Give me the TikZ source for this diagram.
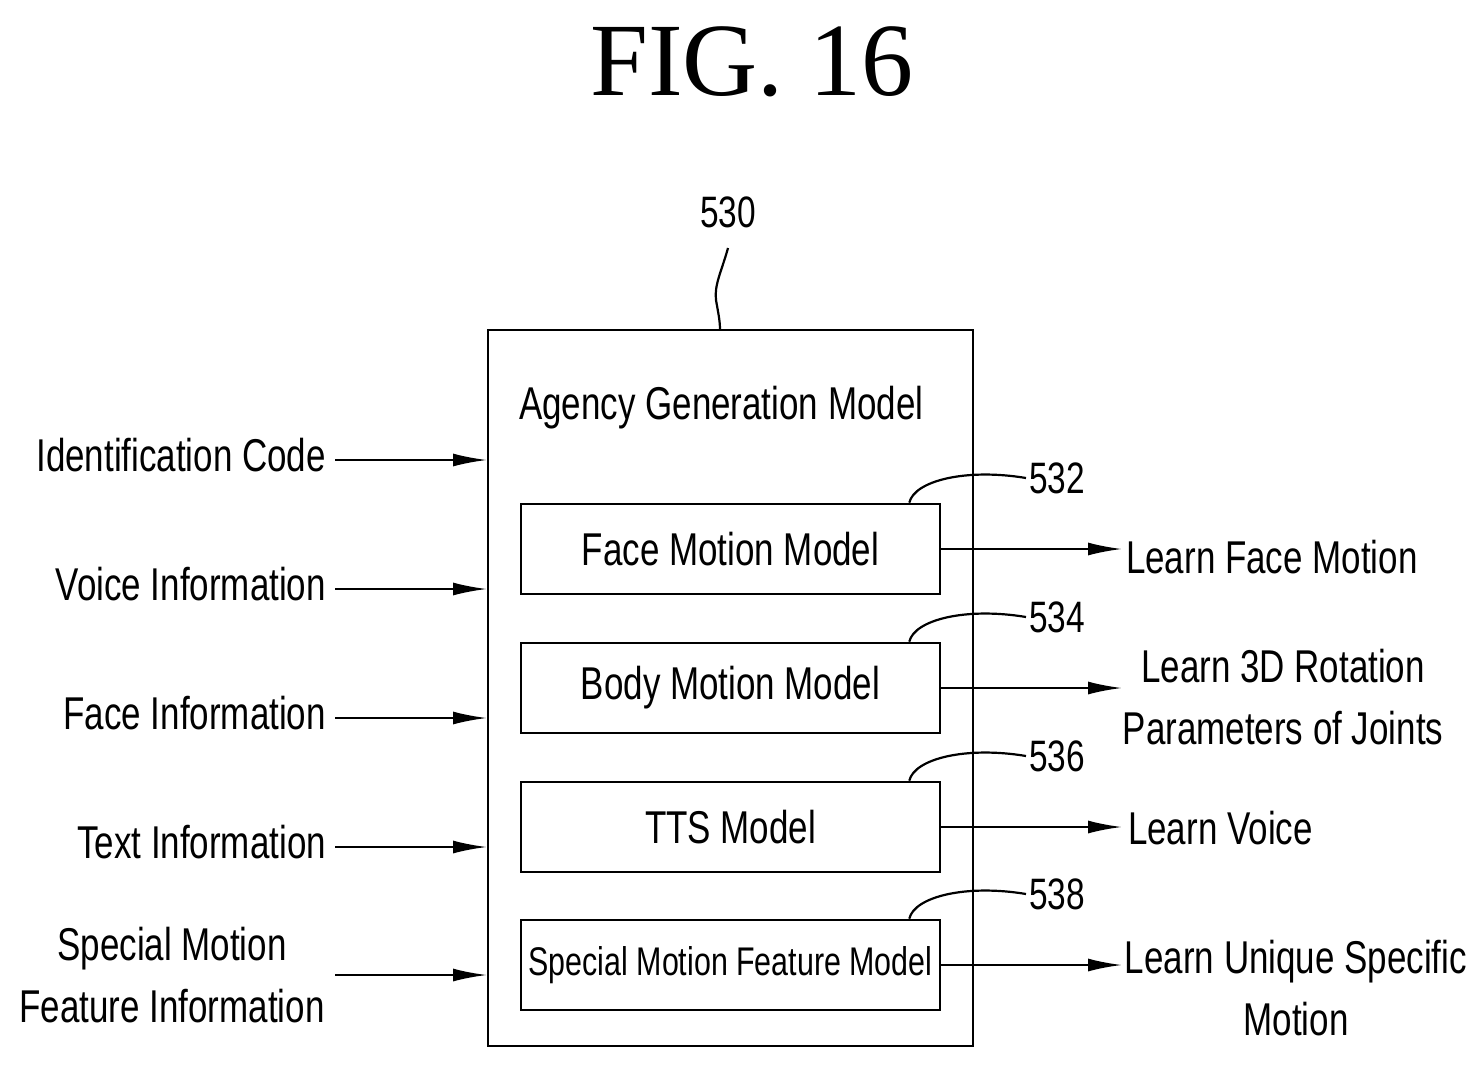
\documentclass[tikz,border=0pt]{standalone}
\usepackage{fontspec}
\setmainfont{Liberation Sans}[FakeStretch=0.76]
\newfontfamily\figfont{Liberation Serif}
\usetikzlibrary{arrows.meta}
\begin{document}
\tikzset{every picture/.style={line width=2.2pt}}
\tikzset{
  blk/.style={draw,line width=2.6pt,minimum width=419pt,minimum height=90pt,inner sep=0pt,font=\fontsize{46}{50}\selectfont},
  lbl/.style={inner sep=0pt,font=\fontsize{46}{62}\selectfont},
  num/.style={inner sep=0pt,font=\fontsize{44}{48}\selectfont},
  arr/.style={-{Latex[length=34pt,width=13pt]}}
}
\begin{tikzpicture}[x=1pt,y=1pt,yscale=-1]
\useasboundingbox (0,0) rectangle (1483,1068);

% title
\node (fig) at (752,62) {\figfont\fontsize{104}{110}\selectfont FIG. 16};

% outer model
\draw [line width=2.6pt] (488,330) rectangle (973,1046);
\node [lbl,anchor=west] (agm) at (518,408) {Agency Generation Model};
\node [num] (n530) at (728,212) {530};
\draw (728,248) .. controls (722,270) and (714,285) .. (716,300) .. controls (718,312) and (720,320) .. (720,330);

% inner models
\node [blk] (face) at (730.5,549) {Face Motion Model};
\node [blk] (body) at (730.5,688) {Body Motion Model};
\node [blk] (tts) at (730.5,827) {TTS Model};
\node [blk,font=\fontsize{40}{44}\selectfont] (spec) at (730.5,965) {Special Motion Feature Model};

% reference numbers
\foreach \b/\n/\y in {face/532/478,body/534/617,tts/536/756,spec/538/894}{
  \node [num,anchor=west] (r\n) at (1028,\y) {\n};
  \draw ([xshift=-32pt]\b.north east) .. controls +(5,-22) and +(-60,-10) .. ([xshift=-2pt]r\n.west);
}

% inputs
\foreach \y/\t/\nm in {460/Identification Code/ic,589/Voice Information/vi,718/Face Information/fi,847/Text Information/ti}{
  \node [lbl,anchor=east] (\nm) at (327,\y-5) {\t};
  \coordinate (\nm-s) at (335,\y);
  \coordinate (\nm-e) at (487,\y);
  \draw [arr] (\nm-s) -- (\nm-e);
}
\node [lbl,align=center] (smf) at (172,975) {Special Motion\\Feature Information};
\coordinate (smf-s) at (335,975);
\coordinate (smf-e) at (487,975);
\draw [arr] (smf-s) -- (smf-e);

% outputs
\node [lbl,anchor=west] (o1) at (1125,557) {Learn Face Motion};
\node [lbl,align=center] (o2) at (1283,697) {Learn 3D Rotation\\Parameters of Joints};
\node [lbl,anchor=west] (o3) at (1127,828) {Learn Voice};
\node [lbl,align=center] (o4) at (1296,988) {Learn Unique Specific\\Motion};
\foreach \b/\y in {face/549,body/688,tts/827,spec/965}{
  \coordinate (\b-o) at (1122,\y);
  \draw [arr] (\b.east) -- (\b-o);
}
\end{tikzpicture}
\end{document}
